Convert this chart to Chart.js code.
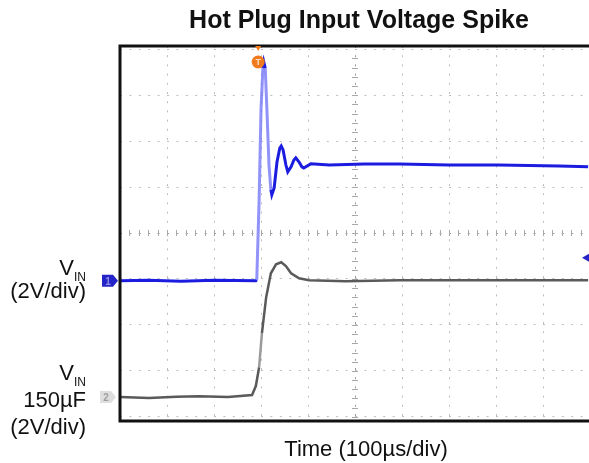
<!DOCTYPE html>
<html lang="en">
<head>
    <meta charset="UTF-8">
    <title>Hot Plug Input Voltage Spike</title>
    <style>
        html, body {
            margin: 0;
            padding: 0;
            overflow: hidden;
            background: #ffffff;
        }
        #scope {
            display: block;
        }
    </style>
</head>
<body>
    <!-- Scope screen is a bit wider than the window, so the right edge is cut off -->
    <canvas id="scope" width="600" height="463"></canvas>

    <script src="https://cdn.jsdelivr.net/npm/chart.js"></script>
    <script>
        // Scope settings
        const usPerDiv = 100;
        const voltsPerDiv = 2;
        const divsX = 10;
        const divsY = 8;
        const ch1GroundDiv = 2.96;   // channel 1 ground marker, divisions from bottom
        const ch2GroundDiv = 0.43;   // channel 2 ground marker
        const triggerTimeUs = 294;
        const triggerLevelV = 1.0;

        // Channel 1: VIN, no bulk capacitor (time in us, volts)
        const ch1TimeUs = [0, 60, 130, 200, 289, 291, 296, 300, 304, 306, 309, 313, 317, 321, 323, 328, 334, 340, 343, 347, 353, 357, 364, 370, 374, 381, 387, 391, 398, 406, 445, 520, 594, 700, 806, 934, 996];
        const ch1Volts  = [0, 0.02, -0.02, 0.02, 0, 0.04, 3.52, 7.43, 9.26, 9.52, 9.26, 7.22, 5.04, 3.96, 3.74, 4.04, 5.17, 5.78, 5.87, 5.70, 5.04, 4.74, 4.96, 5.26, 5.35, 5.17, 4.96, 4.91, 5.00, 5.09, 5.04, 5.09, 5.09, 5.04, 5.04, 5.00, 4.96];

        // Channel 2: VIN with 150uF
        const ch2TimeUs = [0, 62, 120, 168, 230, 281, 289, 296, 302, 311, 321, 332, 343, 353, 364, 381, 402, 480, 594, 760, 996];
        const ch2Volts  = [0, -0.04, 0.02, 0.04, 0, 0.09, 0.48, 1.30, 2.78, 4.35, 5.39, 5.78, 5.87, 5.70, 5.39, 5.17, 5.09, 5.04, 5.09, 5.09, 5.09];

        function toDivs(times, volts, groundDiv) {
            return times.map((t, i) => ({ x: t, y: groundDiv + volts[i] / voltsPerDiv }));
        }

        // Fast edges are drawn faint, like a scope's intensity grading
        function steepColor(solid, faint) {
            return ctx => {
                const dx = Math.abs(ctx.p1.x - ctx.p0.x);
                const dy = Math.abs(ctx.p1.y - ctx.p0.y);
                return dy / Math.max(dx, 0.1) > 10 ? faint : solid;
            };
        }

        const scopeDecor = {
            id: 'scopeDecor',
            beforeDatasetsDraw(chart) {
                const { ctx, scales: { x, y } } = chart;
                const cx = x.getPixelForValue(divsX / 2 * usPerDiv);
                const cy = y.getPixelForValue(divsY / 2);
                ctx.save();
                ctx.strokeStyle = '#a8a8a8';
                ctx.lineWidth = 1;
                ctx.beginPath();
                // minor ticks on the centre cross
                for (let d = 0; d <= divsY; d += 0.2) {
                    const py = Math.round(y.getPixelForValue(d)) + 0.5;
                    ctx.moveTo(cx - 3, py);
                    ctx.lineTo(cx + 3, py);
                }
                for (let d = 0; d <= divsX; d += 0.2) {
                    const px = Math.round(x.getPixelForValue(d * usPerDiv)) + 0.5;
                    ctx.moveTo(px, cy - 3);
                    ctx.lineTo(px, cy + 3);
                }
                ctx.stroke();
                ctx.restore();
            },
            afterDraw(chart) {
                const { ctx, chartArea: a, scales: { x, y } } = chart;
                ctx.save();

                // frame
                ctx.strokeStyle = '#111';
                ctx.lineWidth = 3;
                ctx.beginPath();
                ctx.moveTo(chart.width, a.top);
                ctx.lineTo(a.left, a.top);
                ctx.lineTo(a.left, a.bottom);
                ctx.lineTo(chart.width, a.bottom);
                ctx.stroke();

                // channel ground markers
                const g1 = y.getPixelForValue(ch1GroundDiv);
                const g2 = y.getPixelForValue(ch2GroundDiv);
                ctx.fillStyle = '#2424c8';
                ctx.beginPath();
                ctx.moveTo(102, g1 - 6);
                ctx.lineTo(113, g1 - 6);
                ctx.lineTo(118, g1);
                ctx.lineTo(113, g1 + 6);
                ctx.lineTo(102, g1 + 6);
                ctx.closePath();
                ctx.fill();
                ctx.fillStyle = '#8f8fe8';
                ctx.font = 'bold 10px "Liberation Sans", Arial, sans-serif';
                ctx.textAlign = 'center';
                ctx.textBaseline = 'middle';
                ctx.fillText('1', 108, g1 + 1);

                ctx.fillStyle = '#dedede';
                ctx.beginPath();
                ctx.moveTo(100, g2 - 6);
                ctx.lineTo(111, g2 - 6);
                ctx.lineTo(116, g2);
                ctx.lineTo(111, g2 + 6);
                ctx.lineTo(100, g2 + 6);
                ctx.closePath();
                ctx.fill();
                ctx.fillStyle = '#a0a0a0';
                ctx.fillText('2', 106, g2 + 1);

                // trigger position and level
                const tx = x.getPixelForValue(triggerTimeUs);
                ctx.fillStyle = '#f07a1e';
                ctx.beginPath();
                ctx.moveTo(tx - 3, a.top);
                ctx.lineTo(tx + 3, a.top);
                ctx.lineTo(tx, a.top + 5);
                ctx.closePath();
                ctx.fill();
                ctx.beginPath();
                ctx.arc(tx, a.top + 16, 6.5, 0, Math.PI * 2);
                ctx.fill();
                ctx.fillStyle = '#ffe0c0';
                ctx.font = 'bold 9px "Liberation Sans", Arial, sans-serif';
                ctx.fillText('T', tx, a.top + 17);

                const ly = y.getPixelForValue(ch1GroundDiv + triggerLevelV / voltsPerDiv);
                ctx.fillStyle = '#2424c8';
                ctx.beginPath();
                ctx.moveTo(582, ly);
                ctx.lineTo(589, ly - 4);
                ctx.lineTo(589, ly + 4);
                ctx.closePath();
                ctx.fill();

                // titles and channel labels
                ctx.fillStyle = '#111';
                ctx.textBaseline = 'alphabetic';
                ctx.textAlign = 'center';
                ctx.font = 'bold 25px "Liberation Sans", Arial, sans-serif';
                ctx.fillText('Hot Plug Input Voltage Spike', 359, 28);
                ctx.font = '22px "Liberation Sans", Arial, sans-serif';
                ctx.fillText('Time (100\u00b5s/div)', 366, 456);

                ctx.textAlign = 'right';
                const right = 86;
                function vin(baseline) {
                    ctx.font = '12px "Liberation Sans", Arial, sans-serif';
                    const w = ctx.measureText('IN').width;
                    ctx.fillText('IN', right, baseline + 6);
                    ctx.font = '22px "Liberation Sans", Arial, sans-serif';
                    ctx.fillText('V', right - w, baseline);
                }
                vin(275);
                ctx.font = '22px "Liberation Sans", Arial, sans-serif';
                ctx.fillText('(2V/div)', right, 298);
                vin(380);
                ctx.fillText('150\u00b5F', right, 407);
                ctx.fillText('(2V/div)', right, 434);

                ctx.restore();
            }
        };

        const chart = new Chart(document.getElementById('scope'), {
            type: 'line',
            data: {
                datasets: [{
                    label: 'VIN 150\u00b5F',
                    data: toDivs(ch2TimeUs, ch2Volts, ch2GroundDiv),
                    borderColor: '#5a5a5a',
                    borderWidth: 2.5,
                    pointRadius: 0,
                    segment: { borderColor: steepColor('#5a5a5a', '#9a9a9a') }
                }, {
                    label: 'VIN',
                    data: toDivs(ch1TimeUs, ch1Volts, ch1GroundDiv),
                    borderColor: '#1c1ce0',
                    borderWidth: 3,
                    pointRadius: 0,
                    segment: { borderColor: steepColor('#1c1ce0', 'rgba(110,110,250,0.75)') }
                }]
            },
            options: {
                responsive: false,
                devicePixelRatio: 1,
                animation: false,
                layout: { padding: { left: 120, right: 10, top: 46, bottom: 42 } },
                plugins: {
                    legend: { display: false },
                    tooltip: { enabled: false }
                },
                scales: {
                    x: {
                        type: 'linear',
                        min: 0,
                        max: divsX * usPerDiv,
                        ticks: { display: false, stepSize: usPerDiv },
                        border: { display: false, dash: [2, 7.2] },
                        grid: {
                            drawTicks: false,
                            color: ctx => ctx.tick.value === divsX / 2 * usPerDiv ? '#9a9a9a' : '#bdbdbd'
                        }
                    },
                    y: {
                        type: 'linear',
                        min: -0.09,
                        max: divsY + 0.07,
                        afterBuildTicks: scale => {
                            scale.ticks = Array.from({ length: divsY + 1 }, (_, i) => ({ value: i }));
                        },
                        ticks: { display: false },
                        border: { display: false, dash: [2, 7.4] },
                        grid: {
                            drawTicks: false,
                            color: ctx => ctx.tick.value === divsY / 2 ? '#9a9a9a' : '#bdbdbd'
                        }
                    }
                }
            },
            plugins: [scopeDecor]
        });
    </script>
</body>
</html>
